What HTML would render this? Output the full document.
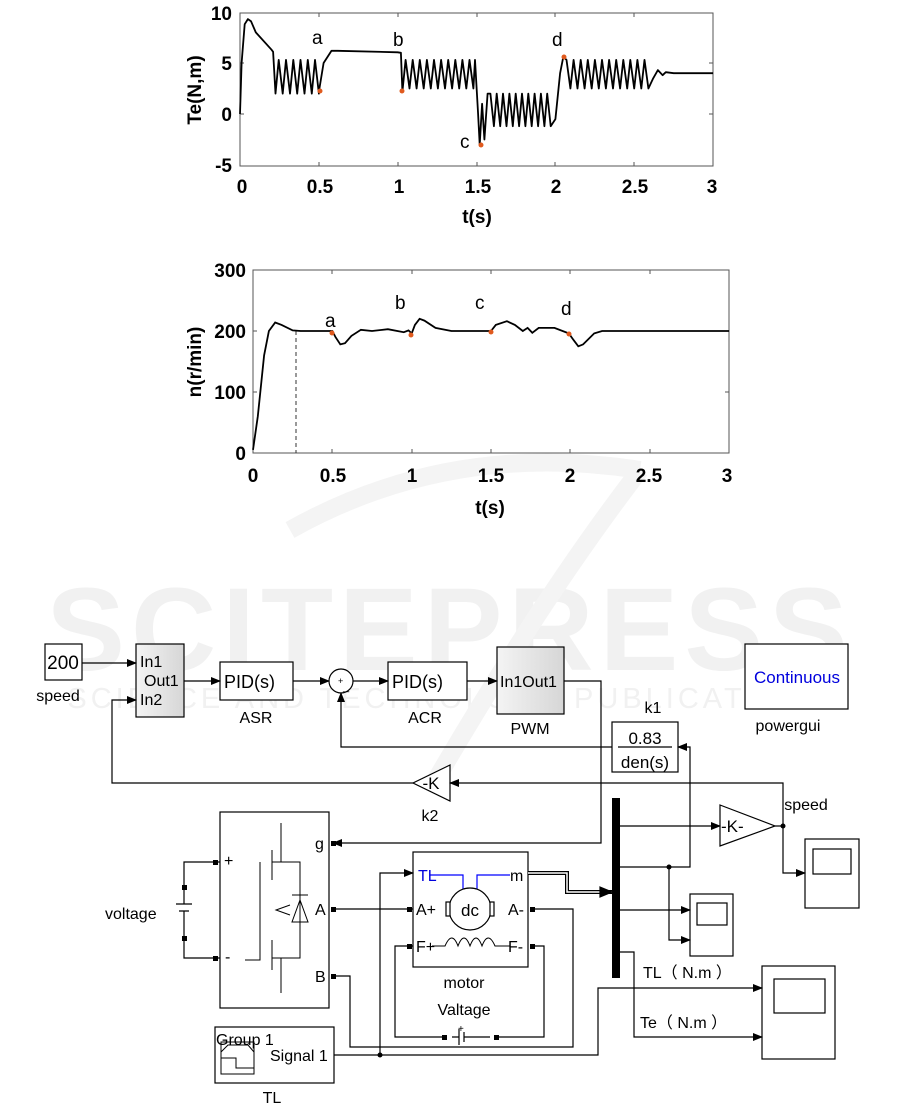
<!DOCTYPE html>
<html><head><meta charset="utf-8"><style>
body{margin:0;background:#fff}
svg{display:block}
text{font-family:"Liberation Sans",Arial,sans-serif}
.b{font-weight:bold;font-size:19px}
.s{font-size:15px}
</style></head><body>
<svg id="sv" width="901" height="1112" viewBox="0 0 901 1112" xmlns="http://www.w3.org/2000/svg">
<!-- watermark -->
<text x="450" y="670" text-anchor="middle" font-size="118" font-weight="bold" fill="#f1f1f1" letter-spacing="6">SCITEPRESS</text>
<text x="450" y="708" text-anchor="middle" font-size="29" fill="#f1f1f1" letter-spacing="4">SCIENCE AND TECHNOLOGY PUBLICATIONS</text>
<path d="M290 530 Q450 440 640 470" fill="none" stroke="#f4f4f4" stroke-width="18"/>
<path d="M640 470 Q540 600 430 790" fill="none" stroke="#f4f4f4" stroke-width="18"/>

<!-- plot 1 -->
<rect x="240" y="13" width="473" height="153" fill="none" stroke="#555" stroke-width="1"/>
<g stroke="#555" stroke-width="1">
<line x1="319" y1="13" x2="319" y2="17"/><line x1="398" y1="13" x2="398" y2="17"/><line x1="477" y1="13" x2="477" y2="17"/><line x1="555" y1="13" x2="555" y2="17"/><line x1="634" y1="13" x2="634" y2="17"/>
<line x1="319" y1="166" x2="319" y2="162"/><line x1="398" y1="166" x2="398" y2="162"/><line x1="477" y1="166" x2="477" y2="162"/><line x1="555" y1="166" x2="555" y2="162"/><line x1="634" y1="166" x2="634" y2="162"/>
<line x1="240" y1="63" x2="244" y2="63"/><line x1="240" y1="114" x2="244" y2="114"/><line x1="713" y1="63" x2="709" y2="63"/><line x1="713" y1="114" x2="709" y2="114"/>
</g>
<g class="b" text-anchor="end"><text x="232" y="20">10</text><text x="232" y="70">5</text><text x="232" y="121">0</text><text x="232" y="172">-5</text></g>
<g class="b" text-anchor="middle"><text x="242" y="193">0</text><text x="320" y="193">0.5</text><text x="399" y="193">1</text><text x="478" y="193">1.5</text><text x="556" y="193">2</text><text x="635" y="193">2.5</text><text x="712" y="193">3</text></g>
<text class="b" x="477" y="223" text-anchor="middle" font-size="21">t(s)</text>
<text class="b" transform="translate(201,90) rotate(-90)" text-anchor="middle" font-size="21">Te(N,m)</text>
<path id="c1" fill="none" stroke="#000" stroke-width="1.8" stroke-linejoin="round"/>
<g font-size="19"><text x="312" y="44">a</text><text x="393" y="46">b</text><text x="460" y="148">c</text><text x="552" y="46">d</text></g>
<g fill="#e05a1e"><circle cx="320" cy="91" r="2.5"/><circle cx="402" cy="91" r="2.5"/><circle cx="481" cy="145" r="2.5"/><circle cx="564" cy="57" r="2.5"/></g>

<!-- plot 2 -->
<rect x="253" y="270" width="476" height="183" fill="none" stroke="#555" stroke-width="1"/>
<g stroke="#555" stroke-width="1">
<line x1="332" y1="270" x2="332" y2="274"/><line x1="412" y1="270" x2="412" y2="274"/><line x1="491" y1="270" x2="491" y2="274"/><line x1="570" y1="270" x2="570" y2="274"/><line x1="650" y1="270" x2="650" y2="274"/>
<line x1="332" y1="453" x2="332" y2="449"/><line x1="412" y1="453" x2="412" y2="449"/><line x1="491" y1="453" x2="491" y2="449"/><line x1="570" y1="453" x2="570" y2="449"/><line x1="650" y1="453" x2="650" y2="449"/>
<line x1="253" y1="331" x2="257" y2="331"/><line x1="253" y1="392" x2="257" y2="392"/><line x1="729" y1="331" x2="725" y2="331"/><line x1="729" y1="392" x2="725" y2="392"/>
</g>
<line x1="296" y1="331" x2="296" y2="453" stroke="#333" stroke-dasharray="4,3"/>
<g class="b" text-anchor="end"><text x="246" y="277">300</text><text x="246" y="338">200</text><text x="246" y="399">100</text><text x="246" y="460">0</text></g>
<g class="b" text-anchor="middle"><text x="253" y="482">0</text><text x="333" y="482">0.5</text><text x="412" y="482">1</text><text x="491" y="482">1.5</text><text x="570" y="482">2</text><text x="649" y="482">2.5</text><text x="727" y="482">3</text></g>
<text class="b" x="490" y="514" text-anchor="middle" font-size="21">t(s)</text>
<text class="b" transform="translate(201,362) rotate(-90)" text-anchor="middle" font-size="21">n(r/min)</text>
<path id="c2" fill="none" stroke="#000" stroke-width="1.8"/>
<g font-size="19"><text x="325" y="327">a</text><text x="395" y="309">b</text><text x="475" y="309">c</text><text x="561" y="315">d</text></g>
<g fill="#e05a1e"><circle cx="332" cy="333" r="2.5"/><circle cx="411" cy="335" r="2.5"/><circle cx="491" cy="332" r="2.5"/><circle cx="569" cy="334" r="2.5"/></g>

<!-- diagram -->
<defs>
<marker id="ar" markerWidth="10" markerHeight="8" refX="9" refY="4" orient="auto" markerUnits="userSpaceOnUse"><path d="M0 0 L10 4 L0 8 Z" fill="#000"/></marker>
<linearGradient id="gr" x1="0" x2="1"><stop offset="0" stop-color="#f4f4f4"/><stop offset="1" stop-color="#d6d6d6"/></linearGradient>
</defs>
<g fill="none" stroke="#000" stroke-width="1.2">
<rect x="45" y="644" width="37" height="36" fill="#fff"/>
<rect x="136" y="644" width="48" height="73" fill="url(#gr)"/>
<rect x="220" y="662" width="73" height="38" fill="#fff"/>
<circle cx="341" cy="681" r="12" fill="#fff"/>
<rect x="388" y="662" width="79" height="38" fill="#fff"/>
<rect x="497" y="647" width="67" height="67" fill="url(#gr)"/>
<rect x="745" y="644" width="103" height="65" fill="#fff"/>
<rect x="612" y="722" width="66" height="50" fill="#fff"/>
<line x1="618" y1="747" x2="672" y2="747"/>
<path d="M450 765 L413 783 L450 801 Z" fill="#fff"/>
<path d="M720 805 L775 826 L720 846 Z" fill="#fff"/>
<rect x="805" y="839" width="54" height="69" fill="#fff"/><rect x="813" y="849" width="38" height="25"/>
<rect x="690" y="894" width="43" height="62" fill="#fff"/><rect x="697" y="903" width="30" height="22"/>
<rect x="762" y="966" width="73" height="93" fill="#fff"/><rect x="774" y="979" width="51" height="34"/>
<rect x="220" y="812" width="109" height="196" fill="#fff"/>
<rect x="413" y="852" width="115" height="115" fill="#fff"/>
<rect x="215" y="1027" width="119" height="56" fill="#fff"/>
<path d="M221 1052 L228 1045 L248 1045 L254 1052 M221 1058 L236 1058 L236 1068 L254 1068 M221 1042 V1074 H254 V1042 Z" stroke-width="1"/>
<line x1="82" y1="663" x2="136" y2="663" marker-end="url(#ar)"/>
<line x1="184" y1="681" x2="220" y2="681" marker-end="url(#ar)"/>
<line x1="293" y1="681" x2="329" y2="681" marker-end="url(#ar)"/>
<line x1="353" y1="681" x2="388" y2="681" marker-end="url(#ar)"/>
<line x1="467" y1="681" x2="497" y2="681" marker-end="url(#ar)"/>
<path d="M612 747 H341 V693" marker-end="url(#ar)"/>
<path d="M413 783 H112 V700 H136" marker-end="url(#ar)"/>
<path d="M564 681 H601 V843 H333" marker-end="url(#ar)"/>
<path d="M620 867 H690 V747 H678" marker-end="url(#ar)"/>
<path d="M669 867 V940 H690" marker-end="url(#ar)"/>
<line x1="620" y1="910" x2="690" y2="910" marker-end="url(#ar)"/>
<line x1="620" y1="826" x2="720" y2="826" marker-end="url(#ar)"/>
<path d="M775 826 H783 V783 H450" marker-end="url(#ar)"/>
<path d="M783 826 V873 H805" marker-end="url(#ar)"/>
<path d="M620 952 H634 V1037 H762" marker-end="url(#ar)"/>
<path d="M334 1055 H598 V988 H762" marker-end="url(#ar)"/>
<path d="M380 1055 V873 H413" marker-end="url(#ar)"/>
<path d="M528 873 H567 V892 H612" stroke-width="4"/>
<path d="M528 873 H567 V892 H612" stroke="#fff" stroke-width="1.5"/>
<path d="M600 887 L612 892 L600 897 Z" fill="#000"/>
<line x1="333" y1="909" x2="413" y2="909"/>
<path d="M532 909 H573 V1047 H350 V976 H333"/>
<path d="M413 946 H395 V1037 H444 M496 1037 H544 V946 H532"/>
<path d="M452 1037 H459 M459 1029 V1045 M464 1032 V1042 M464 1037 H490"/>
<path d="M220 862 H184 V887 M184 938 V958 H220"/>
<path d="M184 887 V904 M176 904 H192 M179 911 H189 M184 911 V938"/>
<path d="M281 823 V862 H300 V958 H281 V993 M272 862 H281 M272 958 H281 M272 850 V880 M272 940 V970 M260 862 V960 H245 M290 905 L276 910 L290 915" stroke-width="1"/>
<path d="M292 895 H308 M292 922 H308 L300 900 L292 922 Z" stroke-width="1"/>
<path d="M430 875 H463 V890 M477 890 V875 H510" stroke="#00f"/>
<circle cx="470" cy="909" r="21" fill="#fff"/>
<rect x="446" y="902" width="4" height="14" fill="#fff"/><rect x="490" y="902" width="4" height="14" fill="#fff"/>
<path d="M432 946 H445 Q452 930 458 946 Q464 930 470 946 Q476 930 482 946 Q488 930 495 946 H510" stroke-width="1"/>
</g>
<rect x="612" y="798" width="8" height="180" fill="#000"/>
<g fill="#000">
<circle cx="669" cy="867" r="2.5"/><circle cx="783" cy="826" r="2.5"/><circle cx="380" cy="1055" r="2.5"/>
<rect x="331" y="841" width="5" height="5"/><rect x="331" y="907" width="5" height="5"/><rect x="331" y="974" width="5" height="5"/>
<rect x="213" y="860" width="5" height="5"/><rect x="213" y="956" width="5" height="5"/>
<rect x="182" y="885" width="5" height="5"/><rect x="182" y="936" width="5" height="5"/>
<rect x="407" y="907" width="5" height="5"/><rect x="407" y="944" width="5" height="5"/>
<rect x="530" y="907" width="5" height="5"/><rect x="530" y="944" width="5" height="5"/>
<rect x="442" y="1035" width="5" height="5"/><rect x="494" y="1035" width="5" height="5"/>
</g>
<g font-size="16">
<text x="63" y="669" text-anchor="middle" font-size="19">200</text>
<text x="58" y="701" text-anchor="middle">speed</text>
<text x="140" y="667">In1</text><text x="144" y="686">Out1</text><text x="140" y="705">In2</text>
<text x="224" y="688" font-size="18">PID(s)</text><text x="256" y="723" text-anchor="middle">ASR</text>
<text x="338" y="684" font-size="9">+</text><text x="343" y="690" font-size="11">_</text>
<text x="392" y="688" font-size="18">PID(s)</text><text x="425" y="723" text-anchor="middle">ACR</text>
<text x="500" y="687">In1Out1</text><text x="530" y="734" text-anchor="middle">PWM</text>
<text x="797" y="683" text-anchor="middle" fill="#0000dd" font-size="17">Continuous</text>
<text x="788" y="731" text-anchor="middle">powergui</text>
<text x="653" y="713" text-anchor="middle">k1</text>
<text x="645" y="744" text-anchor="middle" font-size="17">0.83</text>
<text x="645" y="768" text-anchor="middle" font-size="17">den(s)</text>
<text x="431" y="789" text-anchor="middle" font-size="17">-K</text>
<text x="430" y="821" text-anchor="middle">k2</text>
<text x="721" y="832" font-size="17">-K-</text>
<text x="806" y="810" text-anchor="middle">speed</text>
<text x="105" y="919">voltage</text>
<text x="224" y="866">+</text><text x="225" y="962">-</text>
<text x="315" y="849">g</text><text x="315" y="915">A</text><text x="315" y="982">B</text>
<text x="418" y="881" fill="#0000dd">TL</text><text x="510" y="881">m</text>
<text x="416" y="915">A+</text><text x="508" y="915">A-</text>
<text x="416" y="952">F+</text><text x="508" y="952">F-</text>
<text x="470" y="916" text-anchor="middle" font-size="17">dc</text>
<text x="464" y="988" text-anchor="middle">motor</text>
<text x="464" y="1015" text-anchor="middle">Valtage</text>
<text x="458" y="1032" font-size="10">+</text>
<text x="216" y="1045">Group 1</text><text x="270" y="1061">Signal 1</text>
<text x="272" y="1103" text-anchor="middle">TL</text>
<text x="643" y="978" font-family="Liberation Sans,Noto Sans CJK SC,sans-serif">TL（ N.m ）</text>
<text x="640" y="1028" font-family="Liberation Sans,Noto Sans CJK SC,sans-serif">Te（ N.m ）</text>
</g>
</svg>
<script>
function osc(pts,t0,t1,lo,hi,per){for(var t=t0+per/2;t<t1;t+=per){pts.push([t-per/2+per*0.45,hi]);pts.push([Math.min(t+per/2,t1),lo]);}}
var p=[[0,0],[0.01,5],[0.03,8.8],[0.05,9.3],[0.07,9.1],[0.1,8],[0.2,6.3],[0.21,6.1],[0.225,2]];
osc(p,0.225,0.5,2,5.3,0.046);
p.push([0.5,2.2],[0.53,5],[0.58,6.2],[0.62,6.2],[1.0,6.05],[1.02,6],[1.03,2.2]);
osc(p,1.03,1.48,2.5,5.3,0.045);
p.push([1.49,5.3],[1.51,0],[1.52,-3],[1.535,1],[1.55,-2.5],[1.57,2]);
osc(p,1.57,1.98,-1.2,2,0.04);
p.push([2.0,-0.5],[2.03,4],[2.05,5.6]);
osc(p,2.05,2.6,2.5,5.3,0.045);
p.push([2.62,3.5],[2.65,4.3],[2.68,3.8],[2.7,4.1],[2.75,4],[3,4]);
document.getElementById('c1').setAttribute('d','M'+p.map(function(q){return (240+157.7*q[0]).toFixed(1)+' '+(114-10.2*q[1]).toFixed(1)}).join(' L'));
var s=[[0,5],[0.03,60],[0.07,160],[0.1,200],[0.14,214],[0.18,210],[0.25,201],[0.3,200],[0.5,200],[0.52,190],[0.55,178],[0.58,180],[0.62,192],[0.68,202],[0.75,200],[0.85,203],[0.95,198],[0.98,201],[1.0,196],[1.02,210],[1.05,220],[1.08,217],[1.15,205],[1.25,200],[1.5,200],[1.53,210],[1.6,216],[1.65,210],[1.7,200],[1.73,205],[1.76,197],[1.8,205],[1.9,205],[1.99,196],[2.02,185],[2.05,175],[2.08,178],[2.15,196],[2.2,200],[3,200]];
document.getElementById('c2').setAttribute('d','M'+s.map(function(q){return (253+158.7*q[0]).toFixed(1)+' '+(453-0.61*q[1]).toFixed(1)}).join(' L'));
</script>
</body></html>
